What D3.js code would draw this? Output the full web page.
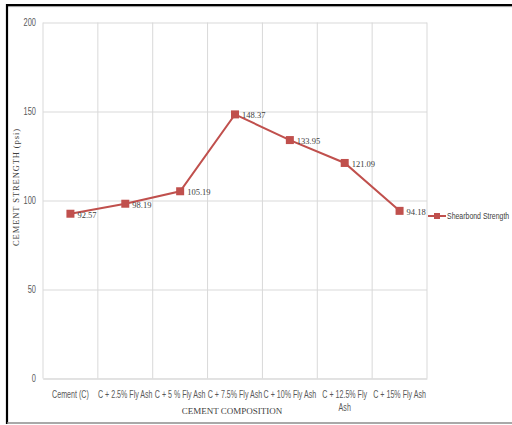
<!DOCTYPE html>
<html>
<head>
<meta charset="utf-8">
<script src="https://cdn.jsdelivr.net/npm/d3@7"></script>
<style>
  html, body { margin: 0; padding: 0; background: #fff; }
  svg { display: block; }
</style>
</head>
<body>
<svg id="chart" width="512" height="425"></svg>
<script>
// Shear bond strength of cement mixes with increasing fly ash content
const categories = [
  "Cement (C)",
  "C + 2.5% Fly Ash",
  "C + 5 % Fly Ash",
  "C + 7.5% Fly Ash",
  "C + 10% Fly Ash",
  "C + 12.5% Fly Ash",
  "C + 15% Fly Ash"
];
const shearbondStrength = [92.57, 98.19, 105.19, 148.37, 133.95, 121.09, 94.18];
const yTicks = [0, 50, 100, 150, 200];
const seriesName = "Shearbond Strength";
const xTitle = "CEMENT COMPOSITION";
const yTitle = "CEMENT STRENGTH (psi)";

const svg = d3.select("#chart");
const red = "#c0504d";
const grid = "#d9d9d9";
const sans = "'Liberation Sans', Arial, sans-serif";
const serif = "'Liberation Serif', 'DejaVu Serif', serif";
const narrow = 0.71; // horizontal squeeze for the condensed sans labels

const plot = { left: 43, right: 427, top: 22.5, bottom: 378.5 };

const x = d3.scaleBand().domain(categories).range([plot.left, plot.right]);
const y = d3.scaleLinear().domain([0, 200]).range([plot.bottom, plot.top]);

// outer frame
svg.append("line").attr("x1", 7).attr("x2", 512).attr("y1", 5).attr("y2", 5)
  .attr("stroke", "#000").attr("stroke-width", 2.2);
svg.append("line").attr("x1", 7).attr("x2", 512).attr("y1", 6.6).attr("y2", 6.6)
  .attr("stroke", "#9a9a9a").attr("stroke-width", 1);
svg.append("line").attr("x1", 7).attr("x2", 7).attr("y1", 4).attr("y2", 424)
  .attr("stroke", "#000").attr("stroke-width", 2.2);
svg.append("line").attr("x1", 7).attr("x2", 512).attr("y1", 423).attr("y2", 423)
  .attr("stroke", "#8c8c8c").attr("stroke-width", 1.6);

// horizontal gridlines and y tick labels
const yAxis = svg.append("g").attr("transform", `translate(${plot.left},0)`)
  .call(d3.axisLeft(y).tickValues(yTicks).tickSize(-(plot.right - plot.left)).tickPadding(0));
yAxis.select(".domain").remove();
yAxis.selectAll(".tick line").attr("stroke", grid).attr("stroke-width", 1);
yAxis.selectAll(".tick text").attr("fill", "#595959")
  .attr("x", -7 / narrow)
  .attr("transform", `scale(${narrow},1)`)
  .style("font-family", sans).style("font-size", "10.5px");

// vertical gridlines on category boundaries
const bounds = categories.map(c => x(c)).concat([x.range()[1]]);
svg.append("g").selectAll("line").data(bounds).join("line")
  .attr("x1", d => d).attr("x2", d => d)
  .attr("y1", plot.top).attr("y2", plot.bottom)
  .attr("stroke", grid).attr("stroke-width", 1);

// category labels below the plot, wrapped when wider than the band
const xAxis = svg.append("g").attr("transform", `translate(0,${plot.bottom})`)
  .call(d3.axisBottom(x).tickSize(0).tickPadding(12));
xAxis.select(".domain").attr("stroke", grid);
xAxis.selectAll(".tick text").attr("fill", "#595959")
  .attr("transform", `scale(${narrow},1)`)
  .style("font-family", sans).style("font-size", "10px")
  .each(function () {
    const t = d3.select(this);
    const words = t.text().split(" ");
    const maxW = (x.bandwidth() + 1) / narrow;
    t.text(null);
    let line = [];
    let ts = t.append("tspan").attr("x", 0).attr("dy", "0.71em");
    words.forEach(w => {
      line.push(w);
      ts.text(line.join(" "));
      if (ts.node().getComputedTextLength() > maxW && line.length > 1) {
        line.pop();
        ts.text(line.join(" "));
        line = [w];
        ts = t.append("tspan").attr("x", 0).attr("dy", "1.35em").text(w);
      }
    });
  });

// axis titles
svg.append("text")
  .attr("x", (plot.left + plot.right) / 2 - 3).attr("y", 414)
  .attr("text-anchor", "middle").attr("fill", "#404040")
  .style("font-family", serif).style("font-size", "9px")
  .text(xTitle);
svg.append("text")
  .attr("transform", `translate(19,187) rotate(-90)`)
  .attr("text-anchor", "middle").attr("fill", "#404040")
  .style("font-family", serif).style("font-size", "8.5px")
  .style("letter-spacing", "0.9px")
  .text(yTitle);

// series line, markers and value labels
const cx = (d, i) => x(categories[i]) + x.bandwidth() / 2;
const line = d3.line().x(cx).y(d => y(d));
svg.append("path").datum(shearbondStrength)
  .attr("d", line).attr("fill", "none")
  .attr("stroke", red).attr("stroke-width", 2);

const ms = 8;
svg.append("g").selectAll("rect").data(shearbondStrength).join("rect")
  .attr("x", (d, i) => cx(d, i) - ms / 2).attr("y", d => y(d) - ms / 2)
  .attr("width", ms).attr("height", ms).attr("fill", red);

svg.append("g").selectAll("text").data(shearbondStrength).join("text")
  .attr("x", (d, i) => cx(d, i) + 7).attr("y", d => y(d) + 4)
  .attr("fill", "#404040")
  .style("font-family", serif).style("font-size", "8.5px")
  .text(d => d3.format(".2f")(d));

// legend
const lg = svg.append("g").attr("transform", "translate(428,216)");
lg.append("line").attr("x1", 0).attr("x2", 18).attr("y1", 0).attr("y2", 0)
  .attr("stroke", red).attr("stroke-width", 2);
lg.append("rect").attr("x", 6).attr("y", -3).attr("width", 6).attr("height", 6).attr("fill", red);
lg.append("text").attr("x", 19 / narrow).attr("y", 3.4).attr("fill", "#404040")
  .attr("transform", `scale(${narrow},1)`)
  .style("font-family", sans).style("font-size", "9.8px")
  .text(seriesName);
</script>
</body>
</html>
